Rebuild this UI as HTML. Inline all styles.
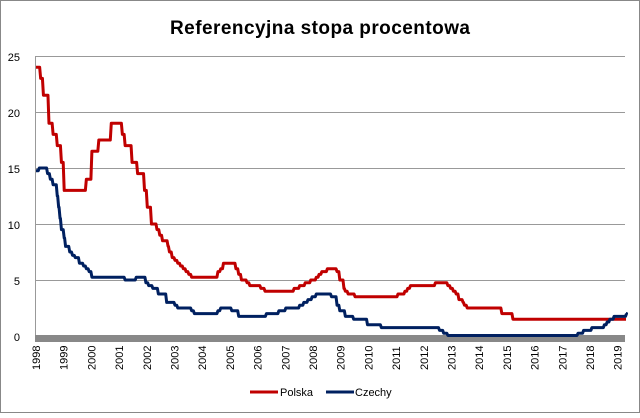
<!DOCTYPE html>
<html><head><meta charset="utf-8"><style>
html,body{margin:0;padding:0;background:#fff}
body{width:640px;height:413px;overflow:hidden;font-family:"Liberation Sans",sans-serif}
</style></head><body>
<svg id="s" width="640" height="413" xmlns="http://www.w3.org/2000/svg" font-family="Liberation Sans, sans-serif">
<rect x="0.5" y="0.5" width="639" height="412" fill="#fff" stroke="#888"/>
<text x="320" y="34" text-anchor="middle" font-size="19" font-weight="bold" fill="#000" textLength="300">Referencyjna stopa procentowa</text>
<g stroke="#999" stroke-width="1">
<line x1="35" y1="56.5" x2="625" y2="56.5"/>
<line x1="35" y1="112.5" x2="625" y2="112.5"/>
<line x1="35" y1="168.5" x2="625" y2="168.5"/>
<line x1="35" y1="224.5" x2="625" y2="224.5"/>
<line x1="35" y1="280.5" x2="625" y2="280.5"/>
<line x1="35.5" y1="56" x2="35.5" y2="336"/>
</g>
<rect x="35" y="335" width="590" height="7" fill="#888"/>
<g font-size="11" fill="#000" text-anchor="end">
<text x="20" y="61">25</text><text x="20" y="117">20</text><text x="20" y="173">15</text>
<text x="20" y="229">10</text><text x="20" y="285">5</text><text x="20" y="341">0</text>
</g>
<g id="xl" font-size="11" fill="#000"></g>
<path id="pl" fill="none" stroke="#c00000" stroke-width="3" stroke-linejoin="round"/>
<path id="cz" fill="none" stroke="#002060" stroke-width="3" stroke-linejoin="round"/>
<line x1="250" y1="392" x2="278" y2="392" stroke="#c00000" stroke-width="3"/>
<text x="280" y="396" font-size="11">Polska</text>
<line x1="326" y1="392" x2="354" y2="392" stroke="#002060" stroke-width="3"/>
<text x="355" y="396" font-size="11">Czechy</text>
</svg>
<script>
var X=function(t){return 36+(t-1998)*27.7},Y=function(v){return 336-v*11.2};
var xl=document.getElementById('xl');
for(var y=1998;y<=2019;y++){var t=document.createElementNS('http://www.w3.org/2000/svg','text');
var x=X(y)+4;t.setAttribute('transform','translate('+x+',370) rotate(-90)');t.textContent=y;xl.appendChild(t);}
function step(d,end){var p='';for(var i=0;i<d.length;i++){var x=X(d[i][0]),v=Y(d[i][1]);
if(i==0)p='M'+x+' '+v;else p+=' L'+(x-0.5)+' '+Y(d[i-1][1])+' L'+(x+0.5)+' '+v;}
p+=' L'+X(end)+' '+Y(d[d.length-1][1]);return p;}
var pl=[[1998,24],[1998.15,23],[1998.25,21.5],[1998.45,19],[1998.6,18],[1998.75,17],[1998.9,15.5],[1999,13],[1999.8,14],[2000,16.5],[2000.25,17.5],[2000.7,19],[2001.1,18],[2001.2,17],[2001.45,15.5],[2001.65,14.5],[2001.9,13],[2002,11.5],[2002.15,10],[2002.35,9.5],[2002.45,9],[2002.55,8.5],[2002.75,8],[2002.8,7.5],[2002.9,7],[2003.0,6.75],[2003.1,6.5],[2003.2,6.25],[2003.3,6],[2003.4,5.75],[2003.5,5.5],[2003.6,5.25],[2004.55,5.75],[2004.65,6],[2004.75,6.5],[2005.2,6],[2005.3,5.5],[2005.4,5],[2005.6,4.75],[2005.7,4.5],[2006.1,4.25],[2006.25,4],[2007.3,4.25],[2007.5,4.5],[2007.7,4.75],[2007.9,5],[2008.1,5.25],[2008.2,5.5],[2008.3,5.75],[2008.5,6],[2008.85,5.75],[2008.95,5],[2009.1,4.25],[2009.15,4],[2009.25,3.75],[2009.5,3.5],[2011.05,3.75],[2011.3,4],[2011.4,4.25],[2011.5,4.5],[2012.4,4.75],[2012.85,4.5],[2012.95,4.25],[2013.05,4],[2013.15,3.75],[2013.25,3.25],[2013.4,3],[2013.45,2.75],[2013.55,2.5],[2014.8,2],[2015.2,1.5]];
var cz=[[1998,14.75],[1998.1,15],[1998.4,14.5],[1998.5,14],[1998.6,13.5],[1998.75,12.5],[1998.8,11.5],[1998.85,10.5],[1998.9,9.5],[1999.0,8.75],[1999.05,8],[1999.2,7.5],[1999.3,7.2],[1999.4,7],[1999.55,6.5],[1999.7,6.25],[1999.8,6],[1999.9,5.75],[2000,5.25],[2001.2,5],[2001.6,5.25],[2001.95,4.75],[2002.05,4.5],[2002.2,4.25],[2002.4,3.75],[2002.7,3],[2003.0,2.75],[2003.1,2.5],[2003.6,2.25],[2003.7,2],[2004.55,2.25],[2004.65,2.5],[2005.05,2.25],[2005.3,1.75],[2005.8,1.75],[2006.3,2],[2006.75,2.25],[2007.0,2.5],[2007.5,2.75],[2007.65,3],[2007.8,3.25],[2007.95,3.5],[2008.1,3.75],[2008.65,3.5],[2008.85,2.75],[2008.95,2.25],[2009.15,1.75],[2009.45,1.5],[2009.95,1.0],[2010.45,0.75],[2012.55,0.5],[2012.7,0.25],[2012.85,0.05],[2017.55,0.25],[2017.75,0.5],[2018.05,0.75],[2018.5,1],[2018.6,1.25],[2018.7,1.5],[2018.85,1.75],[2019.3,2]];
document.getElementById('pl').setAttribute('d',step(pl,2019.3));
document.getElementById('cz').setAttribute('d',step(cz,2019.3));
</script>
</body></html>
